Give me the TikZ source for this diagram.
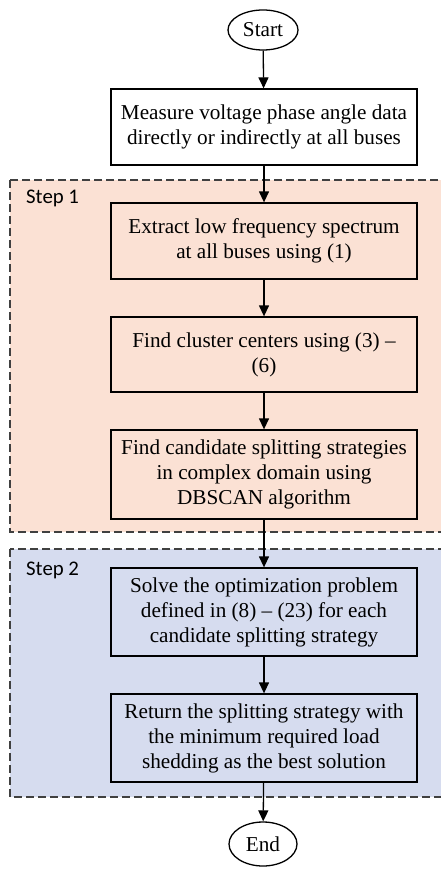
\documentclass[tikz,border=0pt]{standalone}
\usepackage{fontspec}
\setmainfont{Liberation Serif}
\newfontfamily\stepfont{Carlito}
\usetikzlibrary{arrows.meta,shapes.geometric}
\definecolor{peach}{HTML}{FBE1D4}
\definecolor{lblue}{HTML}{D6DCEF}
\definecolor{dashgray}{HTML}{404040}
\tikzset{
  procbox/.style={draw=black, line width=1.3pt, minimum width=306pt, inner sep=0pt, align=center, font=\fontsize{21.2}{25}\selectfont},
  termnode/.style={draw=black, line width=1.3pt, ellipse, inner sep=0pt, font=\fontsize{21.2}{25}\selectfont},
  region/.style={draw=dashgray, line width=1.3pt, dash pattern=on 8pt off 4pt},
  steplabel/.style={anchor=west, inner sep=0pt, font=\stepfont\fontsize{20.8}{25}\selectfont},
  flow/.style={line width=1.3pt, -{Triangle[width=10pt,length=11pt]}}
}
\begin{document}
\begin{tikzpicture}[x=1pt,y=-1pt]
\useasboundingbox (0,0) rectangle (441,869);
\clip (0,0) rectangle (441,869);
\fill[white] (0,0) rectangle (441,869);
\draw[region, fill=peach] (10,180) rectangle (448,532);
\draw[region, fill=lblue] (10,549) rectangle (448,797);
\node[steplabel] (s1) at (26,198) {Step 1};
\node[steplabel] (s2) at (26,570) {Step 2};
\node[termnode, minimum width=70pt, minimum height=40pt] (start) at (263,30) {Start};
\node[procbox, minimum height=76pt, fill=white] (b1) at (264,127) {Measure voltage phase angle data\\directly or indirectly at all buses};
\node[procbox, minimum height=76pt] (b2) at (264,241) {Extract low frequency spectrum\\at all buses using (1)};
\node[procbox, minimum height=75pt] (b3) at (264,354.5) {Find cluster centers using (3) –\\(6)};
\node[procbox, minimum height=89pt] (b4) at (264,474.5) {Find candidate splitting strategies\\in complex domain using\\DBSCAN algorithm};
\node[procbox, minimum height=88pt] (b5) at (264,612) {Solve the optimization problem\\defined in (8) – (23) for each\\candidate splitting strategy};
\node[procbox, minimum height=88pt] (b6) at (264,738) {Return the splitting strategy with\\the minimum required load\\shedding as the best solution};
\node[termnode, minimum width=68pt, minimum height=44pt] (end) at (263,844) {End};
\draw[flow] (start) -- (b1);
\draw[flow] (b1) -- (b2);
\draw[flow] (b2) -- (b3);
\draw[flow] (b3) -- (b4);
\draw[flow] (b4) -- (b5);
\draw[flow] (b5) -- (b6);
\draw[flow] (b6) -- (end);
\end{tikzpicture}
\end{document}
